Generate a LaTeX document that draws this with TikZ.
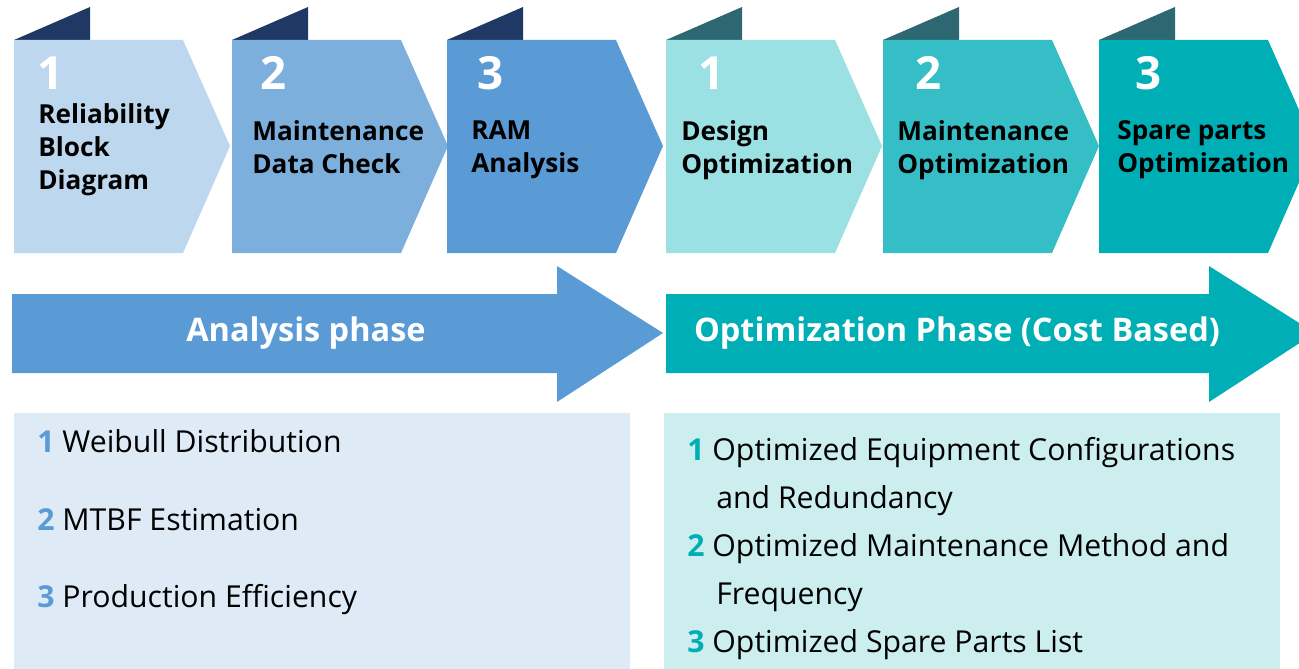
\documentclass[tikz,border=0pt]{standalone}
\usepackage{fontspec}
\setmainfont{Open Sans}
\usetikzlibrary{positioning}
\definecolor{chevA}{HTML}{BDD7EE}
\definecolor{chevB}{HTML}{7DAFDD}
\definecolor{chevC}{HTML}{5B9BD5}
\definecolor{chevD}{HTML}{9BE0E2}
\definecolor{chevE}{HTML}{35BEC6}
\definecolor{chevF}{HTML}{00AFB6}
\definecolor{tabblue}{HTML}{203864}
\definecolor{tabteal}{HTML}{2D6771}
\definecolor{boxblue}{HTML}{DEEBF7}
\definecolor{boxteal}{HTML}{CDEEEF}
\tikzset{
  num/.style={anchor=base west, inner sep=0pt, text=white,
    font=\fontsize{26}{30}\selectfont\bfseries},
  steplabel/.style={anchor=north west, inner sep=0pt, align=left,
    font=\fontsize{14.9}{18.8}\selectfont\bfseries},
  phase/.style={text=white, inner sep=0pt,
    font=\fontsize{18.5}{22}\selectfont\bfseries},
  item/.style={anchor=base west, inner sep=0pt,
    font=\fontsize{17.2}{20}\selectfont}
}

\begin{document}
\begin{tikzpicture}[x=0.02cm, y=-0.02cm]
\useasboundingbox (0,0) rectangle (1299,669);
\clip (0,0) rectangle (1299,669);
% chevrons with their tabs
\foreach \lx/\fc/\tc/\nx/\n [count=\i] in {14/chevA/tabblue/37/1, 232/chevB/tabblue/260/2,
    447/chevC/tabblue/477/3, 666/chevD/tabteal/698/1, 883/chevE/tabteal/915/2,
    1099/chevF/tabteal/1135/3} {
  \fill[\tc] (\lx,40) -- (\lx+76,7) -- (\lx+76,40) -- cycle;
  \fill[\fc] (\lx,40) -- (\lx+169,40) -- (\lx+216,146) -- (\lx+169,253) -- (\lx,253) -- cycle;
  \node[num] (num\i) at (\nx,90) {\n};
}
\node[steplabel] (rbd) at (38,103) {Reliability\\Block\\Diagram};
\node[steplabel] (check) at (252,120) {Maintenance\\Data Check};
\node[steplabel] (ram) at (471,120) {RAM\\Analysis};
\node[steplabel] (design) at (681,120) {Design\\Optimization};
\node[steplabel] (maint) at (897,120) {Maintenance\\Optimization};
\node[steplabel] (spare) at (1117,120) {Spare parts\\Optimization};

% phase arrows
\fill[chevC] (12,294) -- (557,294) -- (557,266) -- (663,333) -- (557,402) -- (557,373) -- (12,373) -- cycle;
\fill[chevF] (666,294) -- (1209,294) -- (1209,266) -- (1315,333) -- (1209,402) -- (1209,373) -- (666,373) -- cycle;
\node[phase] (analysis) at (306,333) {Analysis phase};
\node[phase] (optim) at (957,333) {Optimization Phase (Cost Based)};

% result boxes
\fill[boxblue] (14,413) rectangle (630,669);
\fill[boxteal] (664,413) rectangle (1280,669);
\node[item] (weibull) at (37,452) {\textcolor{chevC}{\bfseries 1} Weibull Distribution};
\node[item] (mtbf) at (37,530) {\textcolor{chevC}{\bfseries 2} MTBF Estimation};
\node[item] (prod) at (37,607) {\textcolor{chevC}{\bfseries 3} Production Efficiency};
\node[item] (config) at (687,460) {\textcolor{chevF}{\bfseries 1} Optimized Equipment Configurations};
\node[item] (redund) at (716,508) {and Redundancy};
\node[item] (method) at (687,556) {\textcolor{chevF}{\bfseries 2} Optimized Maintenance Method and};
\node[item] (freq) at (716,604) {Frequency};
\node[item] (parts) at (687,652) {\textcolor{chevF}{\bfseries 3} Optimized Spare Parts List};
\end{tikzpicture}
\end{document}
